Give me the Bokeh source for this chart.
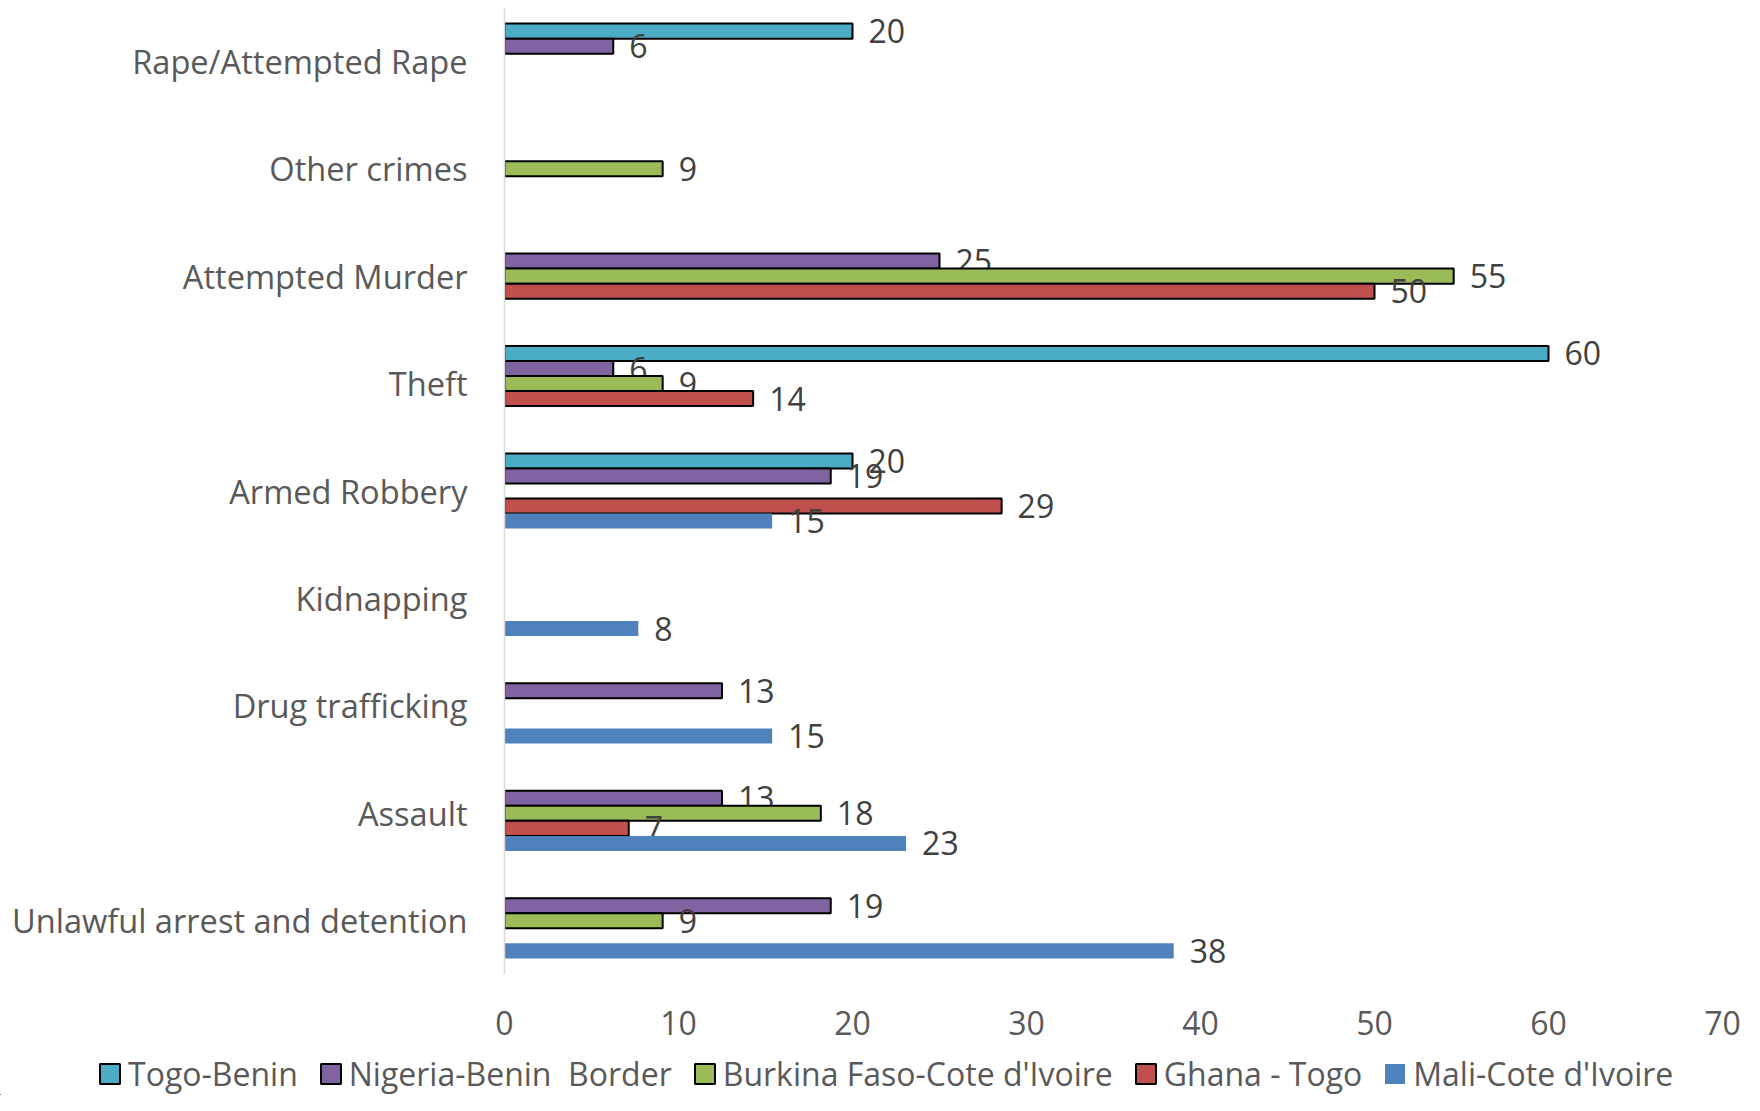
from bokeh.plotting import figure
from bokeh.layouts import column
from bokeh.models import FactorRange, Range1d, FixedTicker, ColumnDataSource, Legend, LegendItem
from bokeh.transform import dodge
from bokeh.core.properties import value
from bokeh.embed import file_html
from bokeh.resources import INLINE

# Categories listed bottom to top
categories = ["Unlawful arrest and detention", "Assault", "Drug trafficking",
              "Kidnapping", "Armed Robbery", "Theft", "Attempted Murder",
              "Other crimes", "Rape/Attempted Rape"]

series_names = ["Togo-Benin", "Nigeria-Benin  Border", "Burkina Faso-Cote d'Ivoire",
                "Ghana - Togo", "Mali-Cote d'Ivoire"]

togo_benin = [None, None, None, None, 20, 60, None, None, 20]
nigeria_benin = [18.75, 12.5, 12.5, None, 18.75, 6.25, 25, None, 6.25]
burkina_ci = [9.09, 18.18, None, None, None, 9.09, 54.55, 9.09, None]
ghana_togo = [None, 7.14, None, None, 28.57, 14.29, 50, None, None]
mali_ci = [38.46, 23.08, 15.38, 7.69, 15.38, None, None, None, None]

x_ticks = [0, 10, 20, 30, 40, 50, 60, 70]

series_values = [togo_benin, nigeria_benin, burkina_ci, ghana_togo, mali_ci]
colors = ["#4BACC6", "#8064A2", "#9BBB59", "#C0504D", "#4F81BD"]
outlines = ["black", "black", "black", "black", None]
offsets = [0.28, 0.14, 0.0, -0.14, -0.28]

FONT = "Open Sans"
W = 1744
H_MAIN = 1050
H_LEG = 45

p = figure(width=W, height=H_MAIN, output_backend="svg", toolbar_location=None,
           y_range=FactorRange(factors=categories), x_range=Range1d(0, 70))
p.min_border_top = 7
p.min_border_left = 504
p.min_border_right = 22
p.min_border_bottom = 76
p.outline_line_color = None
p.xgrid.grid_line_color = None
p.ygrid.grid_line_color = None
p.y_range.range_padding = 0
p.y_range.factor_padding = 0

for name, vals, col, oc, off in zip(series_names, series_values, colors, outlines, offsets):
    cats = [c for c, v in zip(categories, vals) if v is not None]
    vs = [v for v in vals if v is not None]
    labs = [str(int(v + 0.5)) for v in vs]
    src = ColumnDataSource(data=dict(cat=cats, val=vs, lab=labs))
    p.hbar(y=dodge("cat", off, range=p.y_range), right="val", left=0, height=0.14,
           source=src, fill_color=col, line_color=oc, line_width=2)
    p.text(x="val", y=dodge("cat", off, range=p.y_range), text="lab", source=src,
           x_offset=16, y_offset=0, text_baseline="middle", text_align="left",
           text_font=value(FONT), text_font_size="32px", text_color="#404040")

# x axis
xa = p.xaxis[0]
xa.ticker = FixedTicker(ticks=x_ticks)
xa.axis_line_color = None
xa.major_tick_line_color = None
xa.minor_tick_line_color = None
xa.major_tick_out = 0
xa.major_label_standoff = 36
xa.major_label_text_font = FONT
xa.major_label_text_font_size = "32px"
xa.major_label_text_color = "#595959"

# y axis
ya = p.yaxis[0]
ya.axis_line_color = "#d9d9d9"
ya.axis_line_width = 1.5
ya.major_tick_line_color = None
ya.minor_tick_line_color = None
ya.major_tick_out = 0
ya.major_label_standoff = 37
ya.major_label_text_font = FONT
ya.major_label_text_font_size = "32.6px"
ya.major_label_text_color = "#595959"

# legend strip (its own full-width frame so the legend can sit under the labels)
lf = figure(width=W, height=H_LEG, output_backend="svg", toolbar_location=None,
            x_range=Range1d(0, 1), y_range=Range1d(0, 1))
lf.axis.visible = False
lf.grid.visible = False
lf.outline_line_color = None
lf.min_border = 0
items = []
for name, col, oc in zip(series_names, colors, outlines):
    # a single off-screen bar per series, only used to draw the legend swatch
    r = lf.hbar(y=[-5], right=[-5], left=[-6], height=0.1, fill_color=col,
                line_color=oc, line_width=2)
    items.append(LegendItem(label=name, renderers=[r]))

lg = Legend(items=items, orientation="horizontal", location=(97, 0))
lg.label_text_font = FONT
lg.label_text_font_size = "32px"
lg.label_text_color = "#595959"
lg.glyph_width = 25
lg.glyph_height = 25
lg.label_standoff = 6
lg.spacing = 20
lg.padding = 0
lg.margin = 0
lg.border_line_color = None
lg.background_fill_alpha = 0
lf.add_layout(lg, "center")

for f in (p, lf):
    if "frame_align" in f.properties():
        f.frame_align = False

layout = column(p, lf, spacing=0)
open("out.html", "w").write(file_html(layout, INLINE))
